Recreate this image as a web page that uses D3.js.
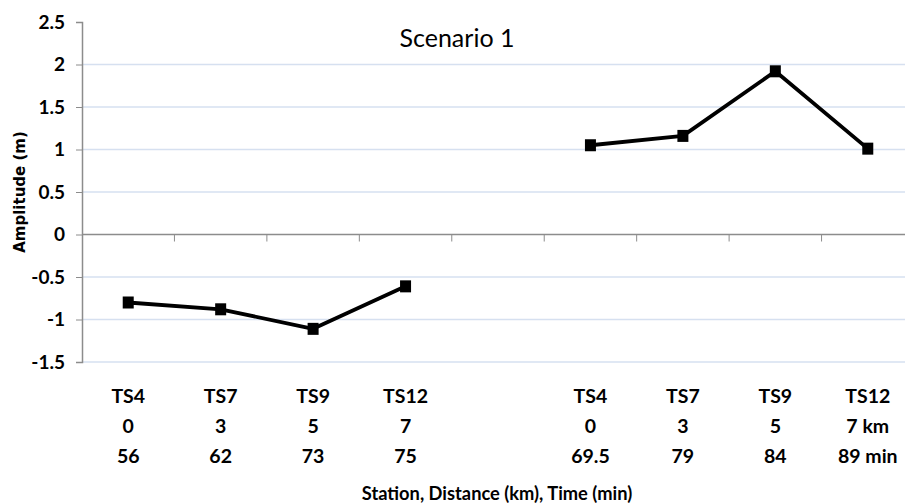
<!DOCTYPE html>
<html>
<head>
<meta charset="utf-8">
<script src="https://cdn.jsdelivr.net/npm/d3@7"></script>
<style>
  body { margin: 0; background: #fff; }
  text { font-family: Lato, "Open Sans", sans-serif; fill: #000; }
</style>
</head>
<body>
<div id="chart"></div>
<script>
const stations  = ["TS4", "TS7", "TS9", "TS12", "", "TS4", "TS7", "TS9", "TS12"];
const distances = ["0", "3", "5", "7", "", "0", "3", "5", "7 km"];
const times     = ["56", "62", "73", "75", "", "69.5", "79", "84", "89 min"];
const amplitude = [-0.80, -0.88, -1.11, -0.61, null, 1.05, 1.16, 1.92, 1.01];
const yTicks    = [-1.5, -1, -0.5, 0, 0.5, 1, 1.5, 2, 2.5];

const w = 905, h = 504;
const plotLeft = 82, plotRight = 914, plotTop = 22, plotBottom = 362;

const svg = d3.select("#chart").append("svg")
    .attr("width", w)
    .attr("height", h);

const idx = d3.range(stations.length);

const x = d3.scaleBand()
    .domain(idx)
    .range([plotLeft, plotRight])
    .padding(0);

const y = d3.scaleLinear()
    .domain([-1.5, 2.5])
    .range([plotBottom, plotTop]);

// gridlines
svg.append("g")
    .selectAll("line")
    .data(yTicks.filter(d => d !== 0 && d !== 2.5))
    .enter()
    .append("line")
    .attr("x1", plotLeft)
    .attr("x2", plotRight)
    .attr("y1", d => y(d))
    .attr("y2", d => y(d))
    .attr("stroke", "#d6e0f0")
    .attr("stroke-width", 1.5);

// y axis
const yAxis = svg.append("g")
    .attr("transform", "translate(" + plotLeft + ",0)")
    .call(d3.axisLeft(y).tickValues(yTicks).tickSize(6).tickPadding(11).tickFormat(d => String(d)));
yAxis.select(".domain").attr("stroke", "#8c8c8c").attr("stroke-width", 1.5);
yAxis.selectAll(".tick line").attr("stroke", "#8c8c8c");
yAxis.selectAll(".tick text")
    .style("font-size", "19px")
    .style("font-weight", "bold")
    .style("font-family", "Lato, sans-serif")
    .attr("fill", "#000");

// zero line with category ticks
const bounds = d3.range(1, stations.length + 1).map(i => i < stations.length ? x(i) : plotRight);
svg.append("line")
    .attr("x1", plotLeft)
    .attr("x2", plotRight)
    .attr("y1", y(0))
    .attr("y2", y(0))
    .attr("stroke", "#8c8c8c")
    .attr("stroke-width", 1.5);
svg.append("g")
    .selectAll("line")
    .data(bounds)
    .enter()
    .append("line")
    .attr("x1", d => d)
    .attr("x2", d => d)
    .attr("y1", y(0))
    .attr("y2", y(0) + 7)
    .attr("stroke", "#8c8c8c");

// category labels (three rows)
const rows = [stations, distances, times];
rows.forEach((row, r) => {
    svg.append("g")
        .selectAll("text")
        .data(idx)
        .enter()
        .append("text")
        .attr("x", d => x(d) + x.bandwidth() / 2)
        .attr("y", 403 + r * 30)
        .attr("text-anchor", "middle")
        .style("font-size", "19.5px")
        .style("font-weight", "bold")
        .text(d => row[d]);
});

// line + markers
const pts = idx.filter(i => amplitude[i] !== null);
const line = d3.line()
    .defined(i => amplitude[i] !== null)
    .x(i => x(i) + x.bandwidth() / 2)
    .y(i => y(amplitude[i]));

svg.append("path")
    .datum(idx)
    .attr("d", line)
    .attr("fill", "none")
    .attr("stroke", "#000")
    .attr("stroke-width", 3.8)
    .attr("stroke-linejoin", "round");

svg.append("g")
    .selectAll("rect")
    .data(pts)
    .enter()
    .append("rect")
    .attr("x", i => x(i) + x.bandwidth() / 2 - 5.5)
    .attr("y", i => y(amplitude[i]) - 6)
    .attr("width", 11)
    .attr("height", 12)
    .attr("fill", "#000");

// title
svg.append("text")
    .attr("x", 457)
    .attr("y", 47)
    .attr("text-anchor", "middle")
    .style("font-size", "25px")
    .text("Scenario 1");

// axis titles
svg.append("text")
    .attr("x", 497)
    .attr("y", 500)
    .attr("text-anchor", "middle")
    .style("font-size", "18.3px")
    .style("font-weight", "bold")
    .text("Station, Distance (km), Time (min)");

svg.append("text")
    .attr("transform", "translate(25,192) rotate(-90)")
    .attr("text-anchor", "middle")
    .style("font-size", "15px")
    .style("font-weight", "bold")
    .style("font-family", "'DejaVu Sans', sans-serif")
    .text("Amplitude (m)");
</script>
</body>
</html>
